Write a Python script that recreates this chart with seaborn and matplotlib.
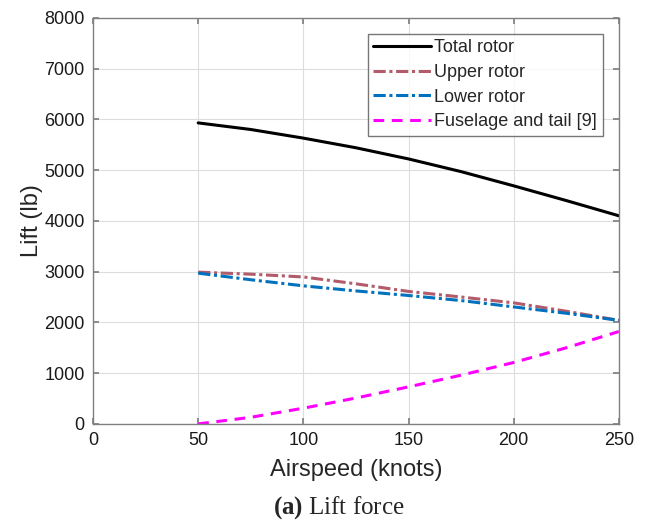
import numpy as np
import pandas as pd
import matplotlib
matplotlib.use("Agg")
import matplotlib.pyplot as plt
import seaborn as sns

airspeed = [50, 75, 100, 125, 150, 175, 200, 225, 250]
total_rotor = [5930, 5800, 5630, 5440, 5220, 4970, 4690, 4400, 4100]
upper_rotor = [2990, 2950, 2895, 2760, 2610, 2500, 2385, 2220, 2040]
lower_rotor = [2970, 2840, 2720, 2620, 2530, 2430, 2305, 2180, 2040]
fuselage_tail = [0, 130, 310, 510, 730, 960, 1210, 1500, 1820]

series_names = ["Total rotor", "Upper rotor", "Lower rotor", "Fuselage and tail [9]"]
x_ticks = [0, 50, 100, 150, 200, 250]
y_ticks = [0, 1000, 2000, 3000, 4000, 5000, 6000, 7000, 8000]

sns.set_theme(style="white")
plt.rcParams['font.family'] = ['Liberation Sans', 'DejaVu Sans']
plt.rcParams['mathtext.fontset'] = 'custom'
plt.rcParams['mathtext.bf'] = 'Liberation Serif:bold'
plt.rcParams['mathtext.rm'] = 'Liberation Serif'

fig = plt.figure(figsize=(6.46, 5.24), dpi=100)
ax = fig.add_axes([0.144, 0.191, 0.814, 0.775])

df = pd.DataFrame({"Airspeed": airspeed, "Total": total_rotor, "Upper": upper_rotor,
                   "Lower": lower_rotor, "Fuse": fuselage_tail})

styles = [
    ("Total", series_names[0], "#000000", "-"),
    ("Upper", series_names[1], "#B25B6B", (0, (4, 1.2, 1, 1.2))),
    ("Lower", series_names[2], "#0072BD", (0, (4, 1.2, 1, 1.2))),
    ("Fuse", series_names[3], "#FF00FF", (0, (3.5, 2.5))),
]
for col, label, color, ls in styles:
    sns.lineplot(data=df, x="Airspeed", y=col, ax=ax, color=color, linestyle=ls,
                 linewidth=2.2, label=label)

ax.set_xlim(0, 250)
ax.set_ylim(0, 8000)
ax.set_xticks(x_ticks)
ax.set_yticks(y_ticks)
ax.grid(True, color="#DDDDDD", linewidth=0.8)
for s in ax.spines.values():
    s.set_color("#808080")
    s.set_linewidth(1.0)
ax.tick_params(direction="in", length=4, color="#808080", labelsize=13,
               top=True, right=True, bottom=True, left=True, labelcolor="#1a1a1a", pad=6)
ax.set_xlabel("Airspeed (knots)", fontsize=17, labelpad=7)
ax.set_ylabel("Lift (lb)", fontsize=17, labelpad=1)

leg = ax.legend(loc="upper right", fontsize=13, frameon=True, fancybox=False,
                edgecolor="#555555", handlelength=3.2, handletextpad=0.2,
                borderpad=0.3, labelspacing=0.42, borderaxespad=0.9)
leg.get_frame().set_linewidth(1.0)

fig.text(0.525, 0.006, r"$\mathbf{(a)}$ Lift force", ha="center", va="bottom",
         fontsize=18, family="Liberation Serif")
fig.savefig("out.png", dpi=100)
